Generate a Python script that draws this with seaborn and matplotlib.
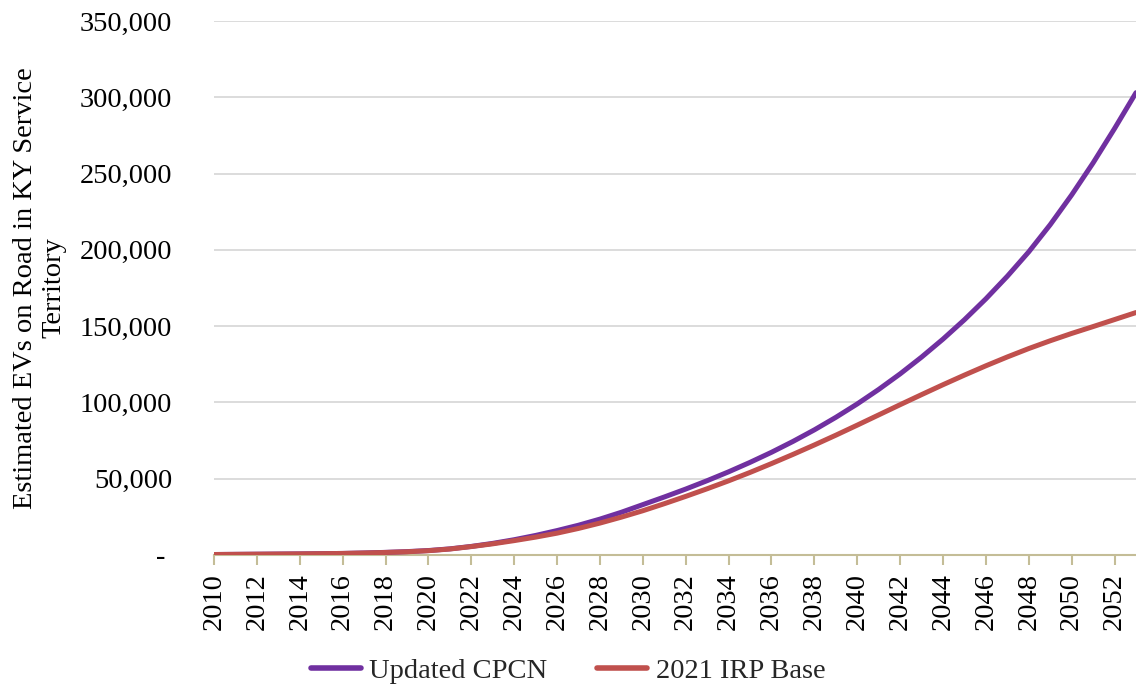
import matplotlib
matplotlib.use("Agg")
import matplotlib.pyplot as plt
import matplotlib.ticker as mticker
import seaborn as sns
import pandas as pd

years = list(range(2010, 2054))

updated_cpcn = [
    300, 400, 500, 600, 700, 850, 1000, 1300, 1700, 2200,
    2900, 4000, 5600, 7600, 10000, 12800, 16000, 19500, 23500, 28000,
    33000, 38000, 43200, 48700, 54500, 60700, 67300, 74400, 82000, 90200,
    99000, 108500, 118700, 129700, 141500, 154200, 167900, 182700, 198700, 216500,
    236000, 257000, 279500, 303000,
]

irp_2021_base = [
    300, 400, 500, 600, 700, 850, 1000, 1300, 1650, 2100,
    2800, 3900, 5500, 7300, 9400, 11700, 14300, 17400, 20900, 24800,
    29000, 33600, 38400, 43400, 48600, 54100, 59900, 65900, 72100, 78500,
    85100, 91800, 98500, 105100, 111600, 117900, 124000, 129800, 135300, 140400,
    145200, 149700, 154300, 158900,
]

series_names = ["Updated CPCN", "2021 IRP Base"]
series_colors = ["#7030A0", "#C0504D"]

df = pd.concat([
    pd.DataFrame({"Year": years, "EVs": updated_cpcn, "Scenario": series_names[0]}),
    pd.DataFrame({"Year": years, "EVs": irp_2021_base, "Scenario": series_names[1]}),
])

sns.set_theme(style="white")
plt.rcParams["font.family"] = ["Liberation Serif", "DejaVu Serif"]
FS = 20.5

fig = plt.figure(figsize=(11.36, 6.9), dpi=100)
ax = fig.add_axes([0.1884, 0.1957, 0.8116, 0.7739])

sns.lineplot(
    data=df, x="Year", y="EVs", hue="Scenario",
    palette=dict(zip(series_names, series_colors)),
    linewidth=3.6, ax=ax, legend=False, zorder=3,
)
for line in ax.get_lines():
    line.set_solid_joinstyle("round")
    line.set_solid_capstyle("round")

ax.set_xlim(2010, 2053)
ax.set_ylim(0, 350000)

ax.yaxis.set_major_locator(mticker.MultipleLocator(50000))
ax.yaxis.set_major_formatter(
    mticker.FuncFormatter(lambda v, _: "- " if v == 0 else f"{int(v):,}")
)
ax.xaxis.set_major_locator(mticker.FixedLocator(list(range(2010, 2053, 2))))
ax.xaxis.set_major_formatter(mticker.FuncFormatter(lambda v, _: f"{int(v)}"))

ax.grid(axis="y", color="#D9D9D9", linewidth=1.3, zorder=0)
ax.grid(axis="x", visible=False)

for side in ("left", "right", "top"):
    ax.spines[side].set_visible(False)
ax.spines["bottom"].set_color("#C4BD97")
ax.spines["bottom"].set_linewidth(1.5)
ax.spines["bottom"].set_zorder(2)

ax.tick_params(axis="x", which="major", bottom=True, length=7, width=1.5,
               color="#C4BD97", direction="out", pad=6,
               labelsize=FS, labelrotation=90, labelcolor="black")
ax.tick_params(axis="y", left=False, pad=24, labelsize=FS, labelcolor="black")

ax.set_xlabel("")
ax.set_ylabel("")

fig.text(0.035, 1 - 288 / 690,
         "Estimated EVs on Road in KY Service\nTerritory",
         rotation=90, ha="center", va="center", multialignment="center",
         fontsize=FS, color="black")

handles = [plt.Line2D([], [], color=c, linewidth=4.0) for c in series_colors]
fig.legend(handles, series_names, loc="center", bbox_to_anchor=(0.5, 0.028),
           ncol=2, frameon=False, fontsize=FS, handlelength=1.75,
           handletextpad=0.3, columnspacing=1.75)

fig.savefig("out.png", dpi=100)
